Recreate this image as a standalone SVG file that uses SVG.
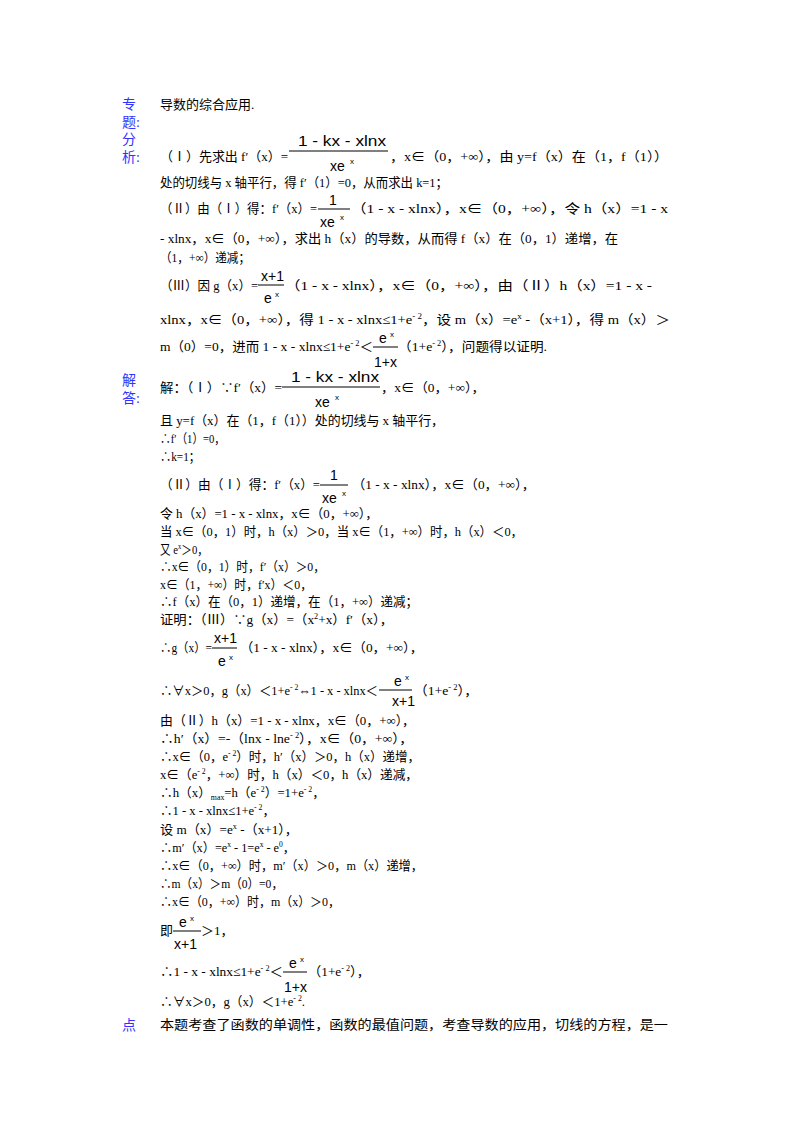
<svg xmlns="http://www.w3.org/2000/svg" width="800" height="1132" viewBox="0 0 800 1132">
<style>
text{font-family:"Liberation Serif","Noto Sans CJK SC",serif;font-size:13px;fill:#000}
.lb{fill:#3333ff;font-size:14px}
.f{font-family:"Liberation Sans","Noto Sans CJK SC",sans-serif;font-size:14px}
.s{font-size:8px}
line{stroke:#000;stroke-width:1}
</style>
<rect width="800" height="1132" fill="#fff"/>
<g id="labels">
<text class="lb" x="122" y="109">专</text><text class="lb" x="122" y="127">题:</text>
<text class="lb" x="122" y="144">分</text><text class="lb" x="122" y="162">析:</text>
<text class="lb" x="122" y="385">解</text><text class="lb" x="122" y="403">答:</text>
<text class="lb" x="122" y="1030">点</text>
</g>
<g id="topic"><text x="160" y="109">导数的综合应用.</text></g>
<g id="analysis">
<text x="160" y="161" textLength="128" lengthAdjust="spacingAndGlyphs">（Ⅰ）先求出 f′（x）=</text>
<text class="f" x="298" y="146" textLength="88" lengthAdjust="spacingAndGlyphs">1 - kx - xlnx</text>
<line x1="289" y1="151" x2="388" y2="151"/>
<text class="f" x="330" y="171">xe</text><text class="f s" x="350" y="164">x</text>
<text x="390" y="161" textLength="278" lengthAdjust="spacingAndGlyphs">，x∈（0，+∞），由 y=f（x）在（1，f（1））</text>
<text x="160" y="187" textLength="288" lengthAdjust="spacingAndGlyphs">处的切线与 x 轴平行，得 f′（1）=0，从而求出 k=1；</text>
<text x="160" y="213" textLength="157" lengthAdjust="spacingAndGlyphs">（Ⅱ）由（Ⅰ）得：f′（x）=</text>
<text class="f" x="329" y="205">1</text>
<line x1="318" y1="209" x2="350" y2="209"/>
<text class="f" x="320" y="227">xe</text><text class="f s" x="340" y="220">x</text>
<text x="351" y="213" textLength="317" lengthAdjust="spacingAndGlyphs">（1 - x - xlnx），x∈（0，+∞），令 h（x）=1 - x</text>
<text x="160" y="243" textLength="458" lengthAdjust="spacingAndGlyphs">- xlnx，x∈（0，+∞），求出 h（x）的导数，从而得 f（x）在（0，1）递增，在</text>
<text x="160" y="262" textLength="90" lengthAdjust="spacingAndGlyphs">（1，+∞）递减；</text>
<text x="160" y="290" textLength="98" lengthAdjust="spacingAndGlyphs">（Ⅲ）因 g（x）=</text>
<text class="f" x="261" y="281">x+1</text>
<line x1="258" y1="285" x2="284" y2="285"/>
<text class="f" x="264" y="303">e</text><text class="f s" x="275" y="297">x</text>
<text x="285" y="290" textLength="367" lengthAdjust="spacingAndGlyphs">（1 - x - xlnx），x∈（0，+∞），由（Ⅱ）h（x）=1 - x -</text>
<text x="160" y="324" textLength="510" lengthAdjust="spacingAndGlyphs">xlnx，x∈（0，+∞），得 1 - x - xlnx≤1+e<tspan class="s" dy="-5">- 2</tspan><tspan dy="5">，设 m（x）=e</tspan><tspan class="s" dy="-5">x</tspan><tspan dy="5"> -（x+1），得 m（x）＞</tspan></text>
<text x="160" y="351" textLength="213" lengthAdjust="spacingAndGlyphs">m（0）=0，进而 1 - x - xlnx≤1+e<tspan class="s" dy="-5">- 2</tspan><tspan dy="5">＜</tspan></text>
<text class="f" x="379" y="343">e</text><text class="f s" x="390" y="337">x</text>
<line x1="373" y1="347" x2="398" y2="347"/>
<text class="f" x="374" y="367">1+x</text>
<text x="398" y="351" textLength="149" lengthAdjust="spacingAndGlyphs">（1+e<tspan class="s" dy="-5">- 2</tspan><tspan dy="5">），问题得以证明.</tspan></text>
</g>
<g id="solution">
<text x="160" y="392" textLength="122" lengthAdjust="spacingAndGlyphs">解：（Ⅰ）∵f′（x）=</text>
<text class="f" x="291" y="382" textLength="88" lengthAdjust="spacingAndGlyphs">1 - kx - xlnx</text>
<line x1="282" y1="387" x2="380" y2="387"/>
<text class="f" x="315" y="407">xe</text><text class="f s" x="335" y="400">x</text>
<text x="381" y="392" textLength="104" lengthAdjust="spacingAndGlyphs">，x∈（0，+∞），</text>
<text x="160" y="425" textLength="284" lengthAdjust="spacingAndGlyphs">且 y=f（x）在（1，f（1））处的切线与 x 轴平行，</text>
<text x="160" y="443" textLength="65" lengthAdjust="spacingAndGlyphs">∴f′（1）=0，</text>
<text x="160" y="461" textLength="40" lengthAdjust="spacingAndGlyphs">∴k=1；</text>
<text x="160" y="489" textLength="160" lengthAdjust="spacingAndGlyphs">（Ⅱ）由（Ⅰ）得：f′（x）=</text>
<text class="f" x="330" y="480">1</text>
<line x1="320" y1="485" x2="348" y2="485"/>
<text class="f" x="322" y="503">xe</text><text class="f s" x="342" y="496">x</text>
<text x="352" y="489" textLength="183" lengthAdjust="spacingAndGlyphs">（1 - x - xlnx），x∈（0，+∞），</text>
<text x="160" y="518" textLength="218" lengthAdjust="spacingAndGlyphs">令 h（x）=1 - x - xlnx，x∈（0，+∞），</text>
<text x="160" y="536" textLength="363" lengthAdjust="spacingAndGlyphs">当 x∈（0，1）时，h（x）＞0，当 x∈（1，+∞）时，h（x）＜0，</text>
<text x="160" y="554" textLength="48" lengthAdjust="spacingAndGlyphs">又 e<tspan class="s" dy="-5">x</tspan><tspan dy="5">＞0，</tspan></text>
<text x="160" y="571" textLength="165" lengthAdjust="spacingAndGlyphs">∴x∈（0，1）时，f′（x）＞0，</text>
<text x="160" y="589" textLength="152" lengthAdjust="spacingAndGlyphs">x∈（1，+∞）时，f′x）＜0，</text>
<text x="160" y="606" textLength="258" lengthAdjust="spacingAndGlyphs">∴f（x）在（0，1）递增，在（1，+∞）递减；</text>
<text x="160" y="624" textLength="233" lengthAdjust="spacingAndGlyphs">证明：（Ⅲ）∵g（x）=（x<tspan class="s" dy="-5">2</tspan><tspan dy="5">+x）f′（x），</tspan></text>
<text x="160" y="652" textLength="52" lengthAdjust="spacingAndGlyphs">∴g（x）=</text>
<text class="f" x="214" y="643">x+1</text>
<line x1="212" y1="648" x2="237" y2="648"/>
<text class="f" x="218" y="666">e</text><text class="f s" x="229" y="660">x</text>
<text x="240" y="652" textLength="183" lengthAdjust="spacingAndGlyphs">（1 - x - xlnx），x∈（0，+∞），</text>
<text x="160" y="695" textLength="218" lengthAdjust="spacingAndGlyphs">∴∀x＞0，g（x）＜1+e<tspan class="s" dy="-5">- 2</tspan><tspan dy="5">⇔1 - x - xlnx＜</tspan></text>
<text class="f" x="394" y="686">e</text><text class="f s" x="405" y="680">x</text>
<line x1="379" y1="690" x2="412" y2="690"/>
<text class="f" x="392" y="706">x+1</text>
<text x="414" y="695" textLength="64" lengthAdjust="spacingAndGlyphs">（1+e<tspan class="s" dy="-5">- 2</tspan><tspan dy="5">），</tspan></text>
<text x="160" y="725" textLength="255" lengthAdjust="spacingAndGlyphs">由（Ⅱ）h（x）=1 - x - xlnx，x∈（0，+∞），</text>
<text x="160" y="743" textLength="253" lengthAdjust="spacingAndGlyphs">∴h′（x）=-（lnx - lne<tspan class="s" dy="-5">- 2</tspan><tspan dy="5">），x∈（0，+∞），</tspan></text>
<text x="160" y="761" textLength="260" lengthAdjust="spacingAndGlyphs">∴x∈（0，e<tspan class="s" dy="-5">- 2</tspan><tspan dy="5">）时，h′（x）＞0，h（x）递增，</tspan></text>
<text x="160" y="779" textLength="258" lengthAdjust="spacingAndGlyphs">x∈（e<tspan class="s" dy="-5">- 2</tspan><tspan dy="5">，+∞）时，h（x）＜0，h（x）递减，</tspan></text>
<text x="160" y="797" textLength="165" lengthAdjust="spacingAndGlyphs">∴h（x）<tspan class="s" dy="3">max</tspan><tspan dy="-3">=h（e</tspan><tspan class="s" dy="-5">- 2</tspan><tspan dy="5">）=1+e</tspan><tspan class="s" dy="-5">- 2</tspan><tspan dy="5">，</tspan></text>
<text x="160" y="815" textLength="115" lengthAdjust="spacingAndGlyphs">∴1 - x - xlnx≤1+e<tspan class="s" dy="-5">- 2</tspan><tspan dy="5">，</tspan></text>
<text x="160" y="834" textLength="138" lengthAdjust="spacingAndGlyphs">设 m（x）=e<tspan class="s" dy="-5">x</tspan><tspan dy="5"> -（x+1），</tspan></text>
<text x="160" y="852" textLength="135" lengthAdjust="spacingAndGlyphs">∴m′（x）=e<tspan class="s" dy="-5">x</tspan><tspan dy="5"> - 1=e</tspan><tspan class="s" dy="-5">x</tspan><tspan dy="5"> - e</tspan><tspan class="s" dy="-5">0</tspan><tspan dy="5">，</tspan></text>
<text x="160" y="870" textLength="263" lengthAdjust="spacingAndGlyphs">∴x∈（0，+∞）时，m′（x）＞0，m（x）递增，</text>
<text x="160" y="888" textLength="123" lengthAdjust="spacingAndGlyphs">∴m（x）＞m（0）=0，</text>
<text x="160" y="906" textLength="180" lengthAdjust="spacingAndGlyphs">∴x∈（0，+∞）时，m（x）＞0，</text>
<text x="160" y="935">即</text>
<text class="f" x="179" y="927">e</text><text class="f s" x="190" y="921">x</text>
<line x1="173" y1="931" x2="201" y2="931"/>
<text class="f" x="174" y="949">x+1</text>
<text x="201" y="935">＞1，</text>
<text x="160" y="976" textLength="123" lengthAdjust="spacingAndGlyphs">∴1 - x - xlnx≤1+e<tspan class="s" dy="-5">- 2</tspan><tspan dy="5">＜</tspan></text>
<text class="f" x="289" y="968">e</text><text class="f s" x="300" y="962">x</text>
<line x1="283" y1="972" x2="307" y2="972"/>
<text class="f" x="284" y="992">1+x</text>
<text x="308" y="976" textLength="62" lengthAdjust="spacingAndGlyphs">（1+e<tspan class="s" dy="-5">- 2</tspan><tspan dy="5">），</tspan></text>
<text x="160" y="1006" textLength="145" lengthAdjust="spacingAndGlyphs">∴∀x＞0，g（x）＜1+e<tspan class="s" dy="-5">- 2</tspan><tspan dy="5">.</tspan></text>
</g>
<g id="comment"><text x="160" y="1029" textLength="508" lengthAdjust="spacingAndGlyphs">本题考查了函数的单调性，函数的最值问题，考查导数的应用，切线的方程，是一</text></g>
<g id="connectors"/>
</svg>
